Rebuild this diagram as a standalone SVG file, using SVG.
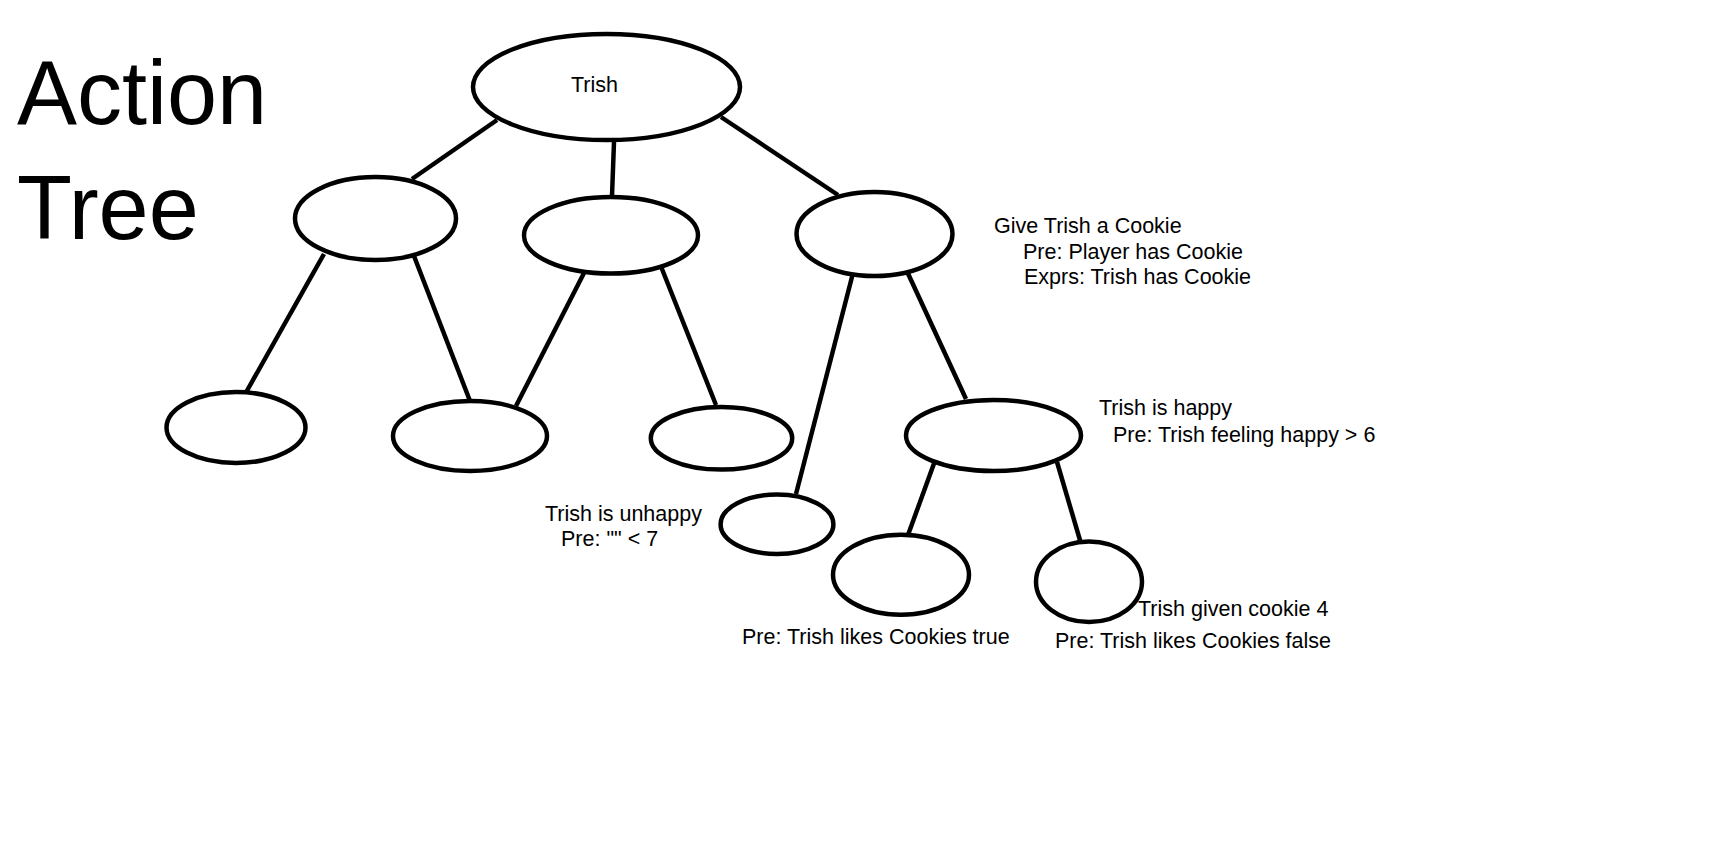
<svg xmlns="http://www.w3.org/2000/svg" width="1720" height="847" viewBox="0 0 1720 847">
<style>
.n{fill:#fff;stroke:#000;stroke-width:4.5}
.c line{stroke:#000;stroke-width:4.5;stroke-linecap:butt}
.t{font-family:"Liberation Sans",Arial,sans-serif;font-size:21.5px;fill:#000}
.title{font-family:"Liberation Sans",Arial,sans-serif;font-size:90px;fill:#000}
</style>
<rect width="1720" height="847" fill="#fff"/>
<g id="title">
<text class="title" x="17" y="124">Action</text>
<text class="title" x="17" y="239">Tree</text>
</g>
<g class="c" id="connectors">
<line x1="497" y1="120" x2="412" y2="179"/>
<line x1="614" y1="142" x2="612" y2="196"/>
<line x1="721" y1="117" x2="838" y2="195"/>
<line x1="324" y1="254" x2="244" y2="396"/>
<line x1="414" y1="256" x2="470" y2="401"/>
<line x1="584" y1="273" x2="516" y2="406"/>
<line x1="660" y1="264" x2="716" y2="405"/>
<line x1="853" y1="273" x2="796" y2="494"/>
<line x1="905" y1="267" x2="966" y2="399"/>
<line x1="936" y1="458" x2="908" y2="535"/>
<line x1="1057" y1="462" x2="1082" y2="547"/>
</g>
<g id="root"><ellipse class="n" cx="606.5" cy="87" rx="133.5" ry="53"/><text class="t" x="571" y="92">Trish</text></g>
<g id="n-left"><ellipse class="n" cx="375.5" cy="218.5" rx="80.5" ry="41.5"/></g>
<g id="n-mid"><ellipse class="n" cx="611" cy="235.3" rx="87" ry="38.3"/></g>
<g id="n-cookie"><ellipse class="n" cx="874.5" cy="234" rx="78" ry="42"/>
<text class="t" x="994" y="233">Give Trish a Cookie</text>
<text class="t" x="1023" y="259">Pre: Player has Cookie</text>
<text class="t" x="1024" y="284">Exprs: Trish has Cookie</text></g>
<g id="n-ll"><ellipse class="n" cx="236" cy="427.5" rx="69.5" ry="35.5"/></g>
<g id="n-lr"><ellipse class="n" cx="470" cy="436" rx="77" ry="35"/></g>
<g id="n-mr"><ellipse class="n" cx="721.5" cy="438.3" rx="70.7" ry="31.3"/></g>
<g id="n-happy"><ellipse class="n" cx="993.5" cy="435.5" rx="87.5" ry="35.5"/>
<text class="t" x="1099" y="415">Trish is happy</text>
<text class="t" x="1113" y="442">Pre: Trish feeling happy &gt; 6</text></g>
<g id="n-unhappy"><ellipse class="n" cx="777" cy="524.3" rx="56.4" ry="29.7"/>
<text class="t" x="545" y="521">Trish is unhappy</text>
<text class="t" x="561" y="546">Pre: "" &lt; 7</text></g>
<g id="n-true"><ellipse class="n" cx="901" cy="574.7" rx="68" ry="40"/>
<text class="t" x="742" y="644">Pre: Trish likes Cookies true</text></g>
<g id="n-false"><ellipse class="n" cx="1089" cy="581.7" rx="53" ry="40.3"/>
<text class="t" x="1138" y="616">Trish given cookie 4</text>
<text class="t" x="1055" y="648">Pre: Trish likes Cookies false</text></g>
</svg>
